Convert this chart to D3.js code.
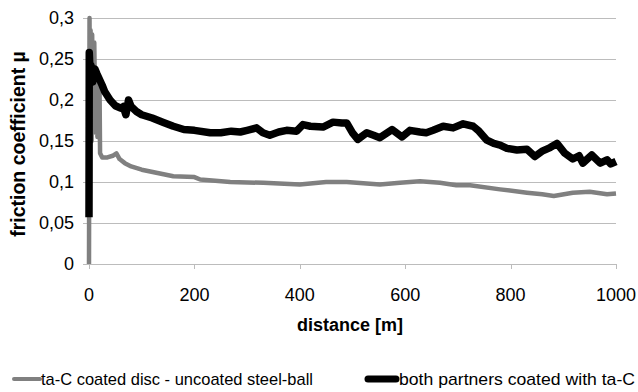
<!DOCTYPE html>
<html>
<head>
<meta charset="utf-8">
<script src="https://cdn.jsdelivr.net/npm/d3@7"></script>
<style>
  body { margin: 0; background: #fff; }
  text { font-family: "Liberation Sans", Arial, sans-serif; fill: #000; }
</style>
</head>
<body>
<div id="vis"></div>
<script>
// tick values
var xTicks = [0, 200, 400, 600, 800, 1000];
var yTicks = [0, 0.05, 0.1, 0.15, 0.2, 0.25, 0.3];

// ta-C coated disc - uncoated steel-ball
var grayDist = [0, 1, 2, 3, 5, 6, 8, 10, 12, 14, 16, 18, 20, 21, 25, 35, 45, 52, 58, 68, 80, 100, 130, 160, 200,
  211, 268, 331, 400, 450, 489, 552, 590, 628, 666, 697, 723, 780, 831, 860, 882, 918, 950, 983, 1000];
var grayMu = [0, 0.3, 0.16, 0.285, 0.15, 0.28, 0.16, 0.27, 0.17, 0.23, 0.155, 0.22, 0.215, 0.135, 0.13, 0.13, 0.132, 0.135, 0.128, 0.123, 0.119, 0.115, 0.111, 0.107, 0.106,
  0.103, 0.1, 0.099, 0.097, 0.1, 0.1, 0.097, 0.099, 0.101, 0.099, 0.096, 0.096, 0.091, 0.087, 0.085, 0.083, 0.087, 0.088, 0.085, 0.086];

// both partners coated with ta-C
var blackDist = [0, 0.5, 2, 4, 7, 11, 15, 20, 25, 30, 40, 50, 60, 65, 70, 75, 80, 90, 100, 120, 140, 160, 180, 200,
  230, 250, 270, 287, 300, 318, 330, 343, 360, 375, 394, 406, 420, 444, 463, 480, 489, 500, 510, 527, 540, 552, 575, 594,
  609, 628, 640, 653, 672, 691, 710, 729, 740, 755, 768, 780, 793, 812, 831, 846, 861, 875, 888, 903, 918, 930, 937, 954,
  970, 983, 990, 1000];
var blackMu = [0.057, 0.258, 0.235, 0.242, 0.222, 0.238, 0.232, 0.225, 0.218, 0.21, 0.2, 0.193, 0.19, 0.192, 0.182, 0.2, 0.192, 0.186, 0.182, 0.178, 0.173, 0.168, 0.164, 0.163,
  0.16, 0.16, 0.162, 0.161, 0.163, 0.166, 0.16, 0.157, 0.161, 0.163, 0.162, 0.17, 0.168, 0.167, 0.173, 0.172, 0.172, 0.16, 0.152, 0.16, 0.157, 0.154, 0.164, 0.155,
  0.163, 0.161, 0.16, 0.163, 0.168, 0.166, 0.171, 0.168, 0.162, 0.151, 0.147, 0.145, 0.141, 0.139, 0.14, 0.131, 0.138, 0.142, 0.147, 0.135, 0.128, 0.132, 0.123, 0.133,
  0.123, 0.127, 0.122, 0.125];

var seriesNames = ["ta-C coated disc - uncoated steel-ball", "both partners coated with ta-C"];

var width = 638, height = 392;
var margin = { top: 18, left: 89, right: 22, bottom: 128 };

var svg = d3.select('#vis').append('svg')
  .attr('width', width)
  .attr('height', height);

var x = d3.scaleLinear().domain([0, 1000]).range([margin.left, width - margin.right]);
var y = d3.scaleLinear().domain([0, 0.3]).range([height - margin.bottom, margin.top]);

var fmt = function (v) { return String(+v.toFixed(2)).replace('.', ','); };

// gridlines with outward ticks
svg.append('g')
  .selectAll('line')
  .data(yTicks)
  .enter().append('line')
  .attr('x1', margin.left - 6)
  .attr('x2', x(1000))
  .attr('y1', function (d) { return Math.round(y(d)) + 0.5; })
  .attr('y2', function (d) { return Math.round(y(d)) + 0.5; })
  .attr('stroke', '#bcbcbc')
  .attr('stroke-width', 1);

// y axis line
svg.append('line')
  .attr('x1', x(0) + 0.5).attr('x2', x(0) + 0.5)
  .attr('y1', y(0.3)).attr('y2', y(0))
  .attr('stroke', '#bcbcbc');

// x axis ticks
svg.append('g')
  .selectAll('line')
  .data(xTicks)
  .enter().append('line')
  .attr('x1', function (d) { return Math.round(x(d)) + 0.5; })
  .attr('x2', function (d) { return Math.round(x(d)) + 0.5; })
  .attr('y1', y(0))
  .attr('y2', y(0) + 5)
  .attr('stroke', '#bcbcbc');

// tick labels
svg.append('g')
  .selectAll('text')
  .data(yTicks)
  .enter().append('text')
  .attr('x', 74)
  .attr('y', function (d) { return y(d) + 6; })
  .attr('text-anchor', 'end')
  .style('font-size', '18px')
  .text(fmt);

svg.append('g')
  .selectAll('text')
  .data(xTicks)
  .enter().append('text')
  .attr('x', function (d) { return x(d); })
  .attr('y', 301)
  .attr('text-anchor', 'middle')
  .style('font-size', '18px')
  .text(function (d) { return d; });

// axis titles
svg.append('text')
  .attr('x', 350)
  .attr('y', 331)
  .attr('text-anchor', 'middle')
  .style('font-size', '18px')
  .style('font-weight', 'bold')
  .text('distance [m]');

svg.append('text')
  .attr('transform', 'translate(25,144) rotate(-90)')
  .attr('text-anchor', 'middle')
  .style('font-size', '19.5px')
  .style('font-weight', 'bold')
  .text('friction coefficient µ');

// series
var line = d3.line()
  .x(function (d) { return x(d[0]); })
  .y(function (d) { return y(d[1]); });

svg.append('path')
  .datum(d3.zip(grayDist, grayMu))
  .attr('d', line)
  .attr('fill', 'none')
  .attr('stroke', '#808080')
  .attr('stroke-width', 4.5)
  .attr('stroke-linejoin', 'round');

svg.append('path')
  .datum(d3.zip(blackDist, blackMu))
  .attr('d', line)
  .attr('fill', 'none')
  .attr('stroke', '#000')
  .attr('stroke-width', 7.5)
  .attr('stroke-linejoin', 'round');

// legend
var legend = [
  { name: seriesNames[0], color: '#808080', w: 4, x1: 14, x2: 40, tx: 41, len: 272 },
  { name: seriesNames[1], color: '#000', w: 7, x1: 368, x2: 396, tx: 399, len: 236 }
];
var lg = svg.append('g').selectAll('g').data(legend).enter().append('g');
lg.append('line')
  .attr('x1', function (d) { return d.x1; })
  .attr('x2', function (d) { return d.x2; })
  .attr('y1', 379).attr('y2', 379)
  .attr('stroke', function (d) { return d.color; })
  .attr('stroke-width', function (d) { return d.w; })
  .attr('stroke-linecap', 'round');
lg.append('text')
  .attr('x', function (d) { return d.tx; })
  .attr('y', 385)
  .attr('textLength', function (d) { return d.len; })
  .attr('lengthAdjust', 'spacingAndGlyphs')
  .style('font-size', '17px')
  .text(function (d) { return d.name; });
</script>
</body>
</html>
